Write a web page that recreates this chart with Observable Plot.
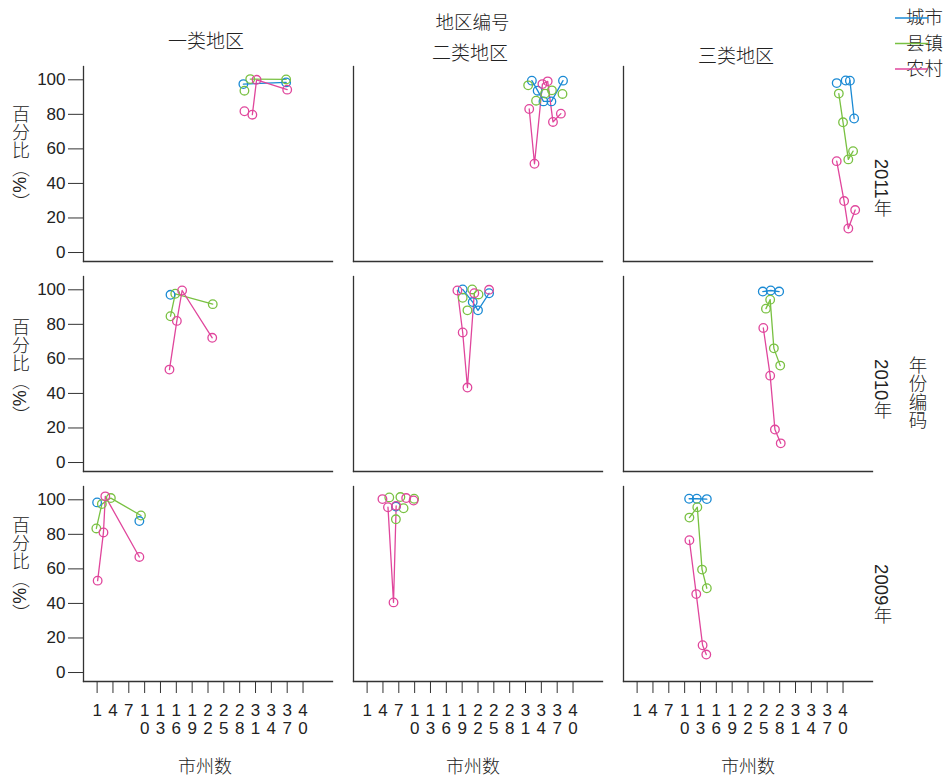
<!DOCTYPE html>
<html>
<head>
<meta charset="utf-8">
<script src="https://cdn.jsdelivr.net/npm/d3@7"></script>
<script src="https://cdn.jsdelivr.net/npm/@observablehq/plot@0.6"></script>
<style>
  html, body { margin: 0; padding: 0; background: #fff; }
  #chart { position: relative; width: 947px; height: 779px; }
  #chart svg { position: absolute; left: 0; top: 0; }
</style>
</head>
<body>
<div id="chart"></div>
<script>
// ---------- data ----------
const regions = ["一类地区", "二类地区", "三类地区"];
const years = ["2011年", "2010年", "2009年"];
const categories = ["城市", "县镇", "农村"];
const palette = ["#1a8ad4", "#79c142", "#e0469c"];
const xTicks = [1, 4, 7, 10, 13, 16, 19, 22, 25, 28, 31, 34, 37, 40];
const yTicks = [0, 20, 40, 60, 80, 100];
const xTitle = "市州数";
const yTitle = "百分比（%）";
const fxTitle = "地区编号";
const fyTitle = "年份编码";

// [地区, 年份, 类别, 市州数, 百分比, 连线组 (0 = 不连线)]
const series = [
  ["一类地区", "2011年", "城市", [28.7, 36.8], [97.5, 98.5], [1, 1]],
  ["一类地区", "2011年", "县镇", [28.9, 30.0, 36.8], [93.7, 100.4, 100.2], [0, 1, 1]],
  ["一类地区", "2011年", "农村", [28.9, 30.4, 31.2, 37.0], [81.8, 79.8, 100, 94.3], [0, 1, 1, 1]],
  ["二类地区", "2011年", "城市", [32.2, 33.3, 34.4, 35.9, 38.1], [99.5, 93.7, 87.5, 87.5, 99.5], [1, 1, 1, 1, 1]],
  ["二类地区", "2011年", "县镇", [31.5, 33.0, 34.7, 36.0, 38.0], [96.8, 87.9, 92.0, 93.9, 91.8], [0, 0, 0, 0, 0]],
  ["二类地区", "2011年", "农村", [31.7, 32.7, 34.2, 35.2, 36.2, 37.7], [83.1, 51.4, 97.5, 99.1, 75.6, 80.4], [1, 1, 1, 1, 1, 1]],
  ["三类地区", "2011年", "城市", [38.8, 40.5, 41.3, 42.1], [98.1, 99.6, 99.5, 77.6], [0, 0, 1, 1]],
  ["三类地区", "2011年", "县镇", [39.2, 40.0, 41.0, 41.9], [92.0, 75.4, 53.9, 58.7], [1, 1, 1, 1]],
  ["三类地区", "2011年", "农村", [38.8, 40.2, 41.0, 42.3], [52.9, 29.8, 13.9, 24.6], [1, 1, 1, 1]],
  ["一类地区", "2010年", "城市", [14.9], [97.1], [0]],
  ["一类地区", "2010年", "县镇", [14.9, 15.8, 22.9], [84.7, 97.7, 91.7], [1, 1, 1]],
  ["一类地区", "2010年", "农村", [14.7, 16.1, 17.1, 22.8], [53.8, 82.0, 99.6, 72.2], [1, 1, 1, 1]],
  ["二类地区", "2010年", "城市", [19.1, 21.0, 22.0, 24.1], [100.2, 92.9, 88.1, 98.0], [1, 1, 1, 1]],
  ["二类地区", "2010年", "县镇", [19.1, 20.0, 20.9, 22.1], [95.4, 88.1, 100.2, 97.3], [0, 0, 0, 0]],
  ["二类地区", "2010年", "农村", [18.1, 19.1, 20.0, 21.3, 24.1], [99.6, 75.3, 43.4, 98.0, 100], [1, 1, 1, 1, 0]],
  ["三类地区", "2010年", "城市", [24.8, 26.3, 27.9], [99.0, 99.6, 99.0], [1, 1, 1]],
  ["三类地区", "2010年", "县镇", [25.4, 26.2, 26.9, 28.1], [89.1, 94.3, 66.1, 56.1], [1, 1, 1, 1]],
  ["三类地区", "2010年", "农村", [24.9, 26.2, 27.1, 28.2], [77.9, 50.3, 19.1, 11.1], [1, 1, 1, 1]],
  ["一类地区", "2009年", "城市", [1.0, 9.0], [98.5, 87.7], [0, 0]],
  ["一类地区", "2009年", "县镇", [0.85, 1.9, 3.6, 9.3], [83.4, 97.5, 101, 90.9], [1, 1, 1, 1]],
  ["一类地区", "2009年", "农村", [1.1, 2.2, 2.55, 9.0], [53.2, 81.1, 102, 66.9], [1, 1, 1, 1]],
  ["二类地区", "2009年", "城市", [6.45], [96.1], [0]],
  ["二类地区", "2009年", "县镇", [5.2, 6.45, 7.3, 7.9, 9.9], [101.4, 88.7, 101.6, 95.1, 100.6], [0, 0, 0, 0, 0]],
  ["二类地区", "2009年", "农村", [3.9, 4.95, 6.0, 6.5, 8.4, 9.8], [100.4, 95.7, 40.6, 96.5, 101, 99.6], [0, 1, 1, 1, 0, 0]],
  ["三类地区", "2009年", "城市", [10.85, 12.3, 14.2], [100.6, 100.6, 100.4], [1, 1, 1]],
  ["三类地区", "2009年", "县镇", [10.9, 12.4, 13.3, 14.2], [89.7, 95.7, 59.6, 48.8], [1, 1, 1, 1]],
  ["三类地区", "2009年", "农村", [10.9, 12.2, 13.4, 14.1], [76.6, 45.4, 15.8, 10.4], [1, 1, 1, 1]]
];

// ---------- build table ----------
const rows = series.flatMap(([r, yr, c, xs, ys, ls]) =>
  xs.map((x, i) => ({地区: r, 年份: yr, 类别: c, 市州数: x, 百分比: ys[i], 线: ls[i], key: r + yr + c + ls[i]})));

const FONT = "'Liberation Sans', 'Noto Sans CJK SC', sans-serif";
const INK = "#222";

function label(text, fx, fy, frameAnchor, dx, dy, fontSize = 18) {
  return Plot.text([text], {
    fx: () => fx, fy: () => fy, text: d => d,
    frameAnchor, dx, dy, textAnchor: "middle", lineAnchor: "middle",
    fontSize, fontFamily: FONT, fontWeight: 300, fill: INK
  });
}

const colDx = [-2, -8, -12], colDy = [-25, -13, -10];
const rowDy = [18, 9, 4];
const yLabDy = [-12, -8.5, -21];
const xLabDx = [-3, -5, 0];

const plot = Plot.plot({
  width: 947,
  height: 779,
  marginTop: 65,
  marginRight: 75,
  marginBottom: 97,
  marginLeft: 83,
  style: {fontFamily: FONT, fontSize: "17px", color: INK, background: "white", overflow: "visible"},
  fx: {domain: regions, paddingInner: 0.078, paddingOuter: 0, axis: null},
  fy: {domain: years, paddingInner: 0.071, paddingOuter: 0, axis: null},
  x: {domain: [-1.58, 45.58]},
  y: {domain: [-5.2, 107.7]},
  color: {domain: categories, range: palette},
  marks: [
    Plot.frame({anchor: "left", stroke: "#333", strokeWidth: 1.3}),
    Plot.frame({anchor: "bottom", stroke: "#333", strokeWidth: 1.3}),
    Plot.axisX({ticks: xTicks, tickFormat: d => String(d).split("").join("\n"),
      tickSize: 12, tickPadding: 10, lineHeight: 1.05, fontSize: 17, label: null, stroke: "#333"}),
    Plot.axisY({ticks: yTicks, tickSize: 15, tickPadding: 3, fontSize: 17, label: null, stroke: "#333"}),
    Plot.line(rows.filter(d => d.线 > 0), {
      x: "市州数", y: "百分比", z: "key", stroke: "类别", fx: "地区", fy: "年份", strokeWidth: 1.3
    }),
    Plot.dot(rows, {
      x: "市州数", y: "百分比", stroke: "类别", fx: "地区", fy: "年份", r: 4.3, strokeWidth: 1.3
    }),
    ...regions.map((r, i) => label(r, r, years[0], "top", colDx[i], colDy[i], 19)),
    ...regions.map((r, i) => label(xTitle, r, years[years.length - 1], "bottom", xLabDx[i], 86, 18)),
    ...years.map((y, i) => label(y, regions[regions.length - 1], y, "right", 9, rowDy[i], 18.5)),
    ...years.map((y, i) => label(yTitle, regions[0], y, "left", -64.5, yLabDy[i], 18)),
    label(fxTitle, regions[1], years[0], "top", -5.5, -43, 18.5),
    label(fyTitle, regions[2], years[1], "right", 44, 12.5, 18.5)
  ]
});

// vertical writing for row titles and axis titles
const verticalTexts = new Set([...years, yTitle, fyTitle]);
d3.select(plot).selectAll("text").each(function () {
  if (verticalTexts.has(this.textContent)) {
    d3.select(this).attr("dy", null)
      .style("writing-mode", "vertical-rl")
      .style("text-orientation", "mixed");
  }
});

const chart = document.getElementById("chart");
chart.appendChild(plot);

// legend overlay built from the plot's color scale
const color = plot.scale("color");
const legend = d3.create("svg").attr("width", 947).attr("height", 779)
  .style("pointer-events", "none").style("font-family", FONT);
const lg = legend.selectAll("g").data(color.domain).join("g")
  .attr("transform", (d, i) => `translate(0,${18 + i * 25.5})`);
lg.append("text").attr("x", 906).attr("y", 0).attr("dy", "0.35em")
  .attr("font-size", 18.5).attr("font-weight", 300).attr("fill", INK).text(d => d);
lg.append("line").attr("x1", 895).attr("x2", 928).attr("y1", 0).attr("y2", 0)
  .attr("stroke", (d, i) => color.range[i]).attr("stroke-width", 1.4);
chart.appendChild(legend.node());
</script>
</body>
</html>
